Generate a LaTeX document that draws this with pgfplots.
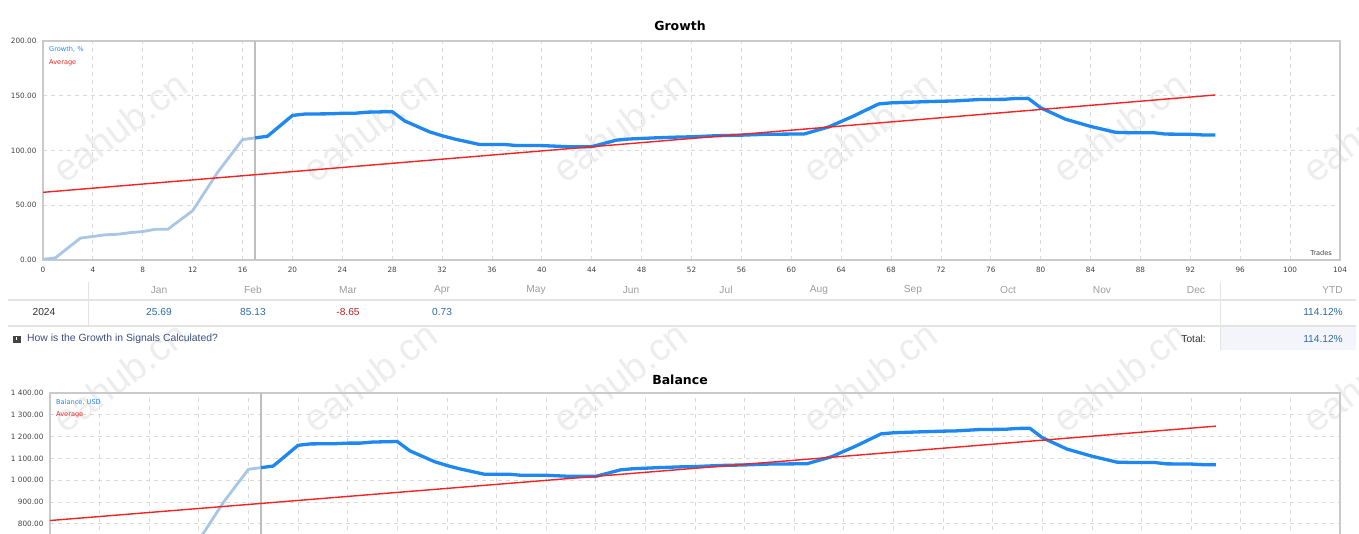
\documentclass[border=0pt]{standalone}
\usepackage{pgfplots}
\pgfplotsset{compat=1.18}
\usepackage{pgfplotstable}
\usepackage{fontspec}
\setmainfont{Liberation Sans}
\newfontfamily\dv{DejaVu Sans}
\newfontfamily\lib{Liberation Sans}

\definecolor{bl}{HTML}{1E88F0}
\definecolor{lbl}{HTML}{A9C6E4}
\definecolor{rd}{HTML}{F22323}
\definecolor{bord}{HTML}{CACACA}
\definecolor{grd}{HTML}{DADADA}
\definecolor{tk}{HTML}{444444}
\definecolor{wm}{HTML}{EDEDED}
\definecolor{vl}{HTML}{BEBEBE}
\definecolor{tbl}{HTML}{E4E4E4}
\definecolor{ytdbg}{HTML}{F3F5FB}
\definecolor{hdr}{HTML}{9E9E9E}
\definecolor{val}{HTML}{2E6DA8}
\definecolor{neg}{HTML}{B5252A}
\definecolor{lnk}{HTML}{3A4F80}
\definecolor{dk}{HTML}{333333}

\pgfplotstableread{
x y
0 0.5
1 2
3 20
4 21.5
5 23
6 23.5
7 25
8 26
9 28
10 28
12 45
14 80
16 110
17 111.5
}\growthA

\pgfplotstableread{
x y
17 111.5
18 113
20 132
21 133.3
23 133.5
24 134
25 134
26 135
28 135.5
29 127
31 117
32 113.5
33 110.5
34 108
35 105.5
37 105.5
38 104.5
40 104.5
41 104
42 103.5
44 103.5
46 109.5
47 110.5
49 111.5
51 112.3
52 112.5
54 113.5
56 114
58 114.8
60 115
61 115
63 121.5
65 131.5
67 142.5
68 143.5
70 144.3
72 145
73 145.2
75 146.5
77 146.7
78 147.5
79 147.6
80 139
82 128.5
84 122
86 116.6
87 116.3
89 116.3
90 115
92 114.8
93 114.2
94 114.12
}\growthB

\pgfplotstableread{
x y
0 502.5
1 510
3 600
4 607.5
5 615
6 617.5
7 625
8 630
9 640
10 640
12 725
14 900
16 1050
17 1057.5
}\balanceA

\pgfplotstableread{
x y
17 1057.5
18 1065
20 1160
21 1166.5
23 1167.5
24 1170
25 1170
26 1175
28 1177.5
29 1135
31 1085
32 1067.5
33 1052.5
34 1040
35 1027.5
37 1027.5
38 1022.5
40 1022.5
41 1020
42 1017.5
44 1017.5
46 1047.5
47 1052.5
49 1057.5
51 1061.5
52 1062.5
54 1067.5
56 1070
58 1074
60 1075
61 1075
63 1107.5
65 1157.5
67 1212.5
68 1217.5
70 1221.5
72 1225
73 1226
75 1232.5
77 1233.5
78 1237.5
79 1238
80 1195
82 1142.5
84 1110
86 1083
87 1081.5
89 1081.5
90 1075
92 1074
93 1071
94 1070.6
}\balanceB

\pgfplotsset{mq/.style={
  scale only axis, xmin=0, xmax=104,
  axis line style={draw=bord, line width=1.6pt},
  grid=major, grid style={grd, dash pattern=on 4pt off 4pt, line width=0.8pt},
  major tick length=0pt,
  tick label style={font=\dv\fontsize{7.3}{8}\selectfont, text=tk},
  yticklabel style={xshift=-3pt},
  xticklabel style={yshift=-3.5pt},
  /pgf/number format/assume math mode=true,
  xtick={0,4,...,104},
  clip=true,
}}

\begin{document}
\begin{tikzpicture}
\path[use as bounding box] (0pt,0pt) rectangle (1359pt,-534pt);
\clip (0pt,0pt) rectangle (1359pt,-534pt);
\fill[white] (0pt,0pt) rectangle (1359pt,-534pt);

% watermarks
\begin{scope}[x=1pt,y=-1pt]
\foreach \xx in {120,370,620,870,1120,1370}{
  \foreach \yy in {127,377}{
    \node[rotate=37, text=wm, inner sep=0pt] at (\xx,\yy) {\lib\fontsize{38}{38}\selectfont eahub.cn};
  }
}
\end{scope}

% Growth axis
\begin{axis}[mq,
  at={(43pt,-260pt)}, anchor=south west,
  width=1297pt, height=219pt,
  ymin=0, ymax=200, ytick={0,50,...,200},
  yticklabel style={/pgf/number format/fixed, /pgf/number format/fixed zerofill, /pgf/number format/precision=2},
]
\addplot[vl, line width=1.5pt] coordinates {(17,0) (17,200)};
\addplot[lbl, line width=2.8pt, line join=round] table[x=x,y=y] {\growthA};
\addplot[bl, line width=3.3pt, line join=round] table[x=x,y=y] {\growthB};
\addplot[rd, line width=1.4pt] coordinates {(0,61.8) (94,150.7)};
\node[anchor=north west, inner sep=0pt, text=bl, font=\dv\fontsize{6.6}{7}\selectfont] at (axis description cs:0,1) [xshift=6pt,yshift=-5.5pt] {Growth, \%};
\node[anchor=north west, inner sep=0pt, text=rd, font=\dv\fontsize{6.6}{7}\selectfont] at (axis description cs:0,1) [xshift=6pt,yshift=-18pt] {Average};
\node[anchor=south east, inner sep=0pt, text=tk, font=\dv\fontsize{6.6}{7}\selectfont] at (axis description cs:1,0) [xshift=-8pt,yshift=4pt] {Trades};
\end{axis}

% Balance axis
\begin{axis}[mq,
  at={(50pt,-393pt)}, anchor=north west,
  width=1290pt, height=152.6pt,
  ymin=700, ymax=1400, ytick={700,800,...,1400},
  yticklabels={700.00,800.00,900.00,1\ 000.00,1\ 100.00,1\ 200.00,1\ 300.00,1\ 400.00},
  xticklabels={},
]
\addplot[vl, line width=1.5pt] coordinates {(17,700) (17,1400)};
\addplot[lbl, line width=2.8pt, line join=round] table[x=x,y=y] {\balanceA};
\addplot[bl, line width=3.3pt, line join=round] table[x=x,y=y] {\balanceB};
\addplot[rd, line width=1.4pt] coordinates {(0,815) (94,1248)};
\node[anchor=north west, inner sep=0pt, text=bl, font=\dv\fontsize{6.6}{7}\selectfont] at (axis description cs:0,1) [xshift=6pt,yshift=-6pt] {Balance, USD};
\node[anchor=north west, inner sep=0pt, text=rd, font=\dv\fontsize{6.6}{7}\selectfont] at (axis description cs:0,1) [xshift=6pt,yshift=-18.5pt] {Average};
\end{axis}

\begin{scope}[x=1pt,y=-1pt]
% titles
\node[font=\dv\bfseries\fontsize{12.5}{14}\selectfont, text=black] at (680,25.5) {Growth};
\node[font=\dv\bfseries\fontsize{12.5}{14}\selectfont, text=black] at (680,379.5) {Balance};
% table
\draw[tbl, line width=1.5pt] (8,300) -- (1356,300);
\draw[tbl, line width=1.5pt] (8,326) -- (1356,326);
\fill[ytdbg] (1220,326.8) rectangle (1356,350);
\draw[tbl, line width=1pt] (88,282) -- (88,325);
\draw[tbl, line width=1pt] (1220,282) -- (1220,350);
\foreach \m/\xx in {Jan/159,Feb/253,Mar/348,Apr/442,May/536,Jun/631,Jul/726,Aug/819,Sep/913,Oct/1008,Nov/1102,Dec/1196}{
  \node[text=hdr, font=\fontsize{10.2}{11}\selectfont] at (\xx,290) {\m};
}
\node[anchor=east, text=hdr, font=\fontsize{10.2}{11}\selectfont, inner sep=0pt] at (1343,290) {YTD};
\node[text=dk, font=\fontsize{10.2}{11}\selectfont] at (44,312) {2024};
\node[text=val, font=\fontsize{10.2}{11}\selectfont] at (159,312) {25.69};
\node[text=val, font=\fontsize{10.2}{11}\selectfont] at (253,312) {85.13};
\node[text=neg, font=\fontsize{10.2}{11}\selectfont] at (348,312) {-8.65};
\node[text=val, font=\fontsize{10.2}{11}\selectfont] at (442,312) {0.73};
\node[anchor=east, text=val, font=\fontsize{10.2}{11}\selectfont, inner sep=0pt] at (1343,312) {114.12\%};
\fill[tk] (13,335.5) rectangle (20.5,343);
\draw[white, line width=0.8pt] (16.75,337) -- (16.75,340.2);
\node[anchor=west, text=lnk, font=\fontsize{10.4}{11}\selectfont, inner sep=0pt] at (27,339) {How is the Growth in Signals Calculated?};
\node[anchor=east, text=dk, font=\fontsize{10.2}{11}\selectfont, inner sep=0pt] at (1206,339) {Total:};
\node[anchor=east, text=val, font=\fontsize{10.2}{11}\selectfont, inner sep=0pt] at (1343,339) {114.12\%};
\end{scope}
\end{tikzpicture}
\end{document}
